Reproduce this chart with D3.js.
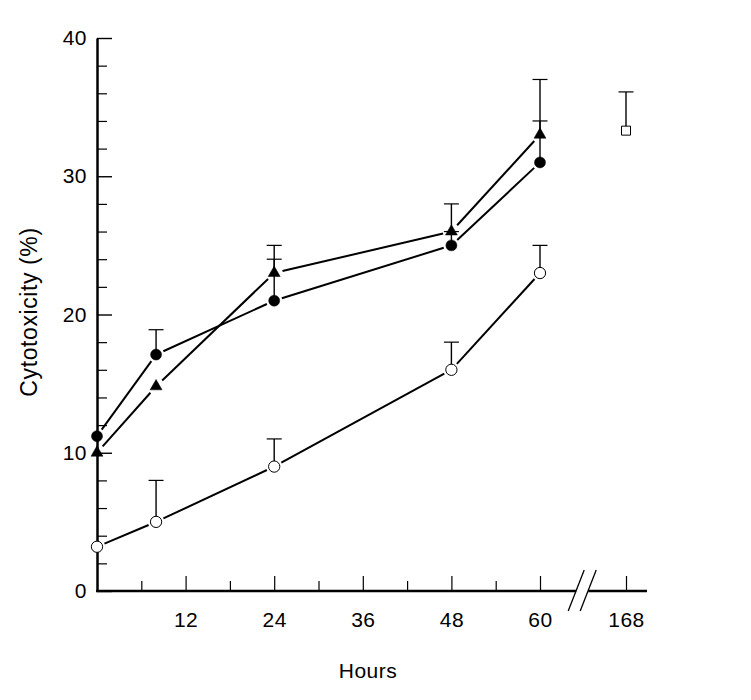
<!DOCTYPE html>
<html>
<head>
<meta charset="utf-8">
<script src="https://cdn.jsdelivr.net/npm/d3@7"></script>
<style>
  body { margin: 0; background: #fff; }
  text { font-family: "Liberation Sans", Arial, sans-serif; }
</style>
</head>
<body>
<div id="chart"></div>
<script>
// data
var hours = [0, 8, 24, 48, 60];
var openCircle = [3.2, 5, 9, 16, 23];
var openErr = [null, 8, 11, 18, 25];
var filledCircle = [11.2, 17.1, 21, 25, 31];
var filledErr = [null, 18.9, 24, 26, 34];
var triangle = [10, 14.8, 23, 26, 33];
var triangleErr = [null, null, 25, 28, 37];
var squareHour = [168];
var square = [33.3];
var squareErr = [36.1];

var xMajor = [12, 24, 36, 48, 60, 168];
var xMinor = [6, 18, 30, 42, 54];
var yMajor = [0, 10, 20, 30, 40];
var yMinor = d3.range(2, 40, 2).filter(function(d) { return d % 10 != 0; });

var W = 751, H = 700;

var svg = d3.select("#chart")
  .append("svg")
    .attr("width", W)
    .attr("height", H);

// piecewise x scale: 0-60 linear, then a break before 168
var x = d3.scaleLinear()
  .domain([0, 60, 168, 195])
  .range([97, 540, 626, 647]);

var y = d3.scaleLinear()
  .domain([0, 40])
  .range([591, 38]);

// Y axis: ticks point inward (to the right)
svg.append("g")
  .attr("transform", "translate(" + x(0) + ",0)")
  .call(d3.axisLeft(y).tickValues(yMinor).tickSizeInner(-10).tickSizeOuter(0).tickFormat(""))
  .call(function(g) { g.select(".domain").remove(); })
  .selectAll("line").attr("stroke-width", 1.2);

var yAx = svg.append("g")
  .attr("transform", "translate(" + x(0) + ",0)")
  .call(d3.axisLeft(y).tickValues(yMajor).tickSizeInner(-15).tickSizeOuter(0).tickPadding(10));
yAx.select(".domain").attr("stroke-width", 2.5);
yAx.selectAll("line").attr("stroke-width", 1.4);
yAx.selectAll("text").attr("font-size", 21).attr("letter-spacing", 0.5).attr("fill", "#000");

// X axis: ticks point upward
var xAx = svg.append("g")
  .attr("transform", "translate(0," + y(0) + ")")
  .call(d3.axisBottom(x).tickValues(xMajor).tickSizeInner(-15).tickSizeOuter(0).tickPadding(21));
xAx.select(".domain").remove();
xAx.selectAll("line").attr("stroke-width", 1.2);
xAx.selectAll("text").attr("font-size", 21).attr("letter-spacing", 0.5).attr("fill", "#000");

svg.append("g")
  .attr("transform", "translate(0," + y(0) + ")")
  .call(d3.axisBottom(x).tickValues(xMinor).tickSizeInner(-10).tickSizeOuter(0).tickFormat(""))
  .call(function(g) { g.select(".domain").remove(); })
  .selectAll("line").attr("stroke-width", 1.2);

// x axis line with a break
var breakX = x(113);
svg.append("line")
  .attr("x1", x(0) - 1).attr("x2", breakX - 6)
  .attr("y1", y(0)).attr("y2", y(0))
  .attr("stroke", "#000").attr("stroke-width", 2.5);
svg.append("line")
  .attr("x1", breakX + 6).attr("x2", x(195))
  .attr("y1", y(0)).attr("y2", y(0))
  .attr("stroke", "#000").attr("stroke-width", 2.5);
[-6, 6].forEach(function(o) {
  svg.append("line")
    .attr("x1", breakX + o - 8).attr("y1", y(0) + 20)
    .attr("x2", breakX + o + 8).attr("y2", y(0) - 21)
    .attr("stroke", "#000").attr("stroke-width", 1.3);
});

// axis titles
svg.append("text")
  .attr("x", 368).attr("y", 678)
  .attr("text-anchor", "middle")
  .attr("font-size", 21)
  .attr("letter-spacing", 0.5)
  .attr("fill", "#000")
  .text("Hours");

svg.append("text")
  .attr("transform", "translate(37,312) rotate(-90)")
  .attr("text-anchor", "middle")
  .attr("font-size", 23)
  .attr("letter-spacing", 0.6)
  .attr("fill", "#000")
  .text("Cytotoxicity (%)");

// series
var series = [
  {vals: filledCircle, err: filledErr, sym: d3.symbolCircle, size: 95, fill: "#000", r: 5.5},
  {vals: triangle, err: triangleErr, sym: d3.symbolTriangle, size: 62, fill: "#000", r: 6},
  {vals: openCircle, err: openErr, sym: d3.symbolCircle, size: 100, fill: "#fff", r: 5.6}
];

// connecting lines, each segment stopped short of the markers
series.forEach(function(s) {
  var pts = hours.map(function(h, i) { return [x(h), y(s.vals[i])]; });
  for (var i = 0; i < pts.length - 1; i++) {
    var a = pts[i], b = pts[i + 1];
    var dx = b[0] - a[0], dy = b[1] - a[1];
    var len = Math.sqrt(dx * dx + dy * dy);
    var g = s.r + 2.5;
    svg.append("line")
      .attr("x1", a[0] + dx / len * g).attr("y1", a[1] + dy / len * g)
      .attr("x2", b[0] - dx / len * g).attr("y2", b[1] - dy / len * g)
      .attr("stroke", "#000").attr("stroke-width", 2);
  }
});

// error bars
function errBar(h, v, e) {
  svg.append("line")
    .attr("x1", x(h)).attr("x2", x(h))
    .attr("y1", y(v)).attr("y2", y(e))
    .attr("stroke", "#000").attr("stroke-width", 1.4);
  svg.append("line")
    .attr("x1", x(h) - 7.5).attr("x2", x(h) + 7.5)
    .attr("y1", y(e)).attr("y2", y(e))
    .attr("stroke", "#000").attr("stroke-width", 1.2);
}
series.forEach(function(s) {
  hours.forEach(function(h, i) {
    if (s.err[i] != null) errBar(h, s.vals[i], s.err[i]);
  });
});
squareHour.forEach(function(h, i) { errBar(h, square[i], squareErr[i]); });

// markers
series.forEach(function(s) {
  svg.append("g")
    .selectAll("path")
    .data(hours)
    .enter().append("path")
      .attr("d", d3.symbol().type(s.sym).size(s.size))
      .attr("transform", function(h, i) { return "translate(" + x(h) + "," + y(s.vals[i]) + ")"; })
      .attr("fill", s.fill)
      .attr("stroke", "#000")
      .attr("stroke-width", s.fill == "#fff" ? 1 : 0.5);
});

svg.append("g")
  .selectAll("path")
  .data(squareHour)
  .enter().append("path")
    .attr("d", d3.symbol().type(d3.symbolSquare).size(81))
    .attr("transform", function(h, i) { return "translate(" + x(h) + "," + y(square[i]) + ")"; })
    .attr("fill", "#fff")
    .attr("stroke", "#000")
    .attr("stroke-width", 1);
</script>
</body>
</html>
